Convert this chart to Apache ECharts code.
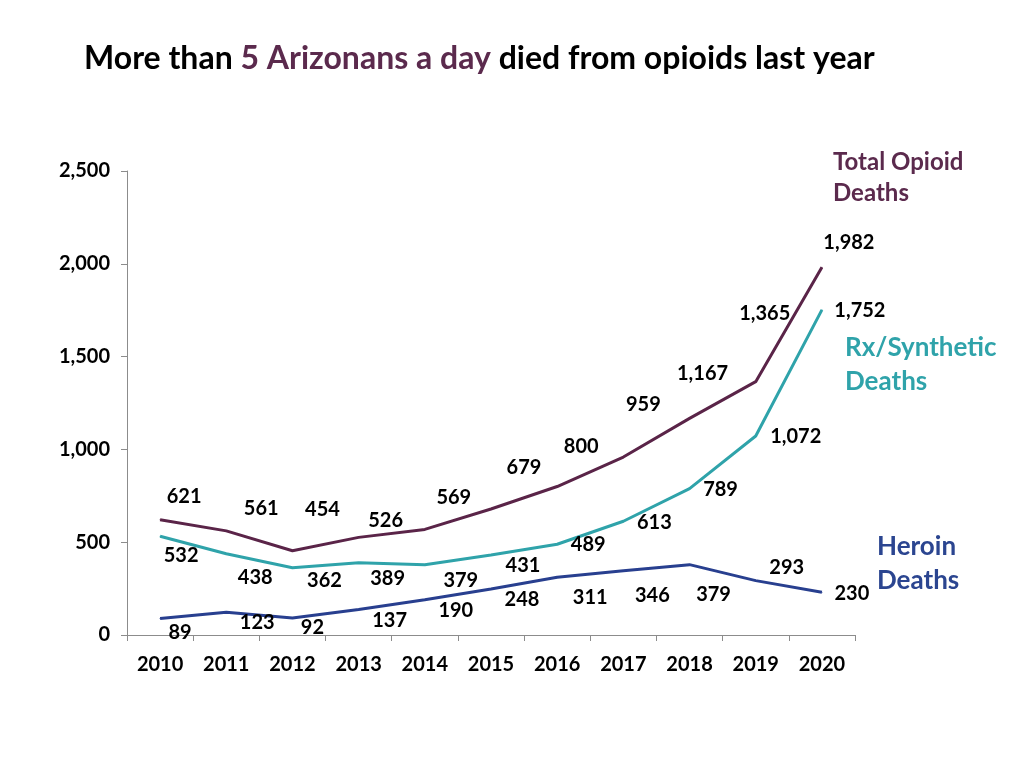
<!DOCTYPE html>
<html><head><meta charset="utf-8">
<script src="https://cdn.jsdelivr.net/npm/echarts@6/dist/echarts.min.js"></script>
<style>html,body{margin:0;padding:0;background:#fff}#c{width:1024px;height:768px}</style>
</head><body><div id="c"></div>
<script>
const years = ['2010','2011','2012','2013','2014','2015','2016','2017','2018','2019','2020'];
const totalDeaths = [621, 561, 454, 526, 569, 679, 800, 959, 1167, 1365, 1982];
const rxDeaths = [532, 438, 362, 389, 379, 431, 489, 613, 789, 1072, 1752];
const heroinDeaths = [89, 123, 92, 137, 190, 248, 311, 346, 379, 293, 230];
const yTicks = [0, 500, 1000, 1500, 2000, 2500];

// label placement offsets (layout only)
const totalOffsets = [[24,-23],[35,-22],[30,-41],[27,-17],[29,-32],[33,-41],[24,-40],[20,-52],[13,-45],[9,-68],[27,-25]];
const rxOffsets = [[21,19],[29,24],[32,13],[29,16],[36,16],[32,11],[31,0],[31,1],[31,1],[40,1],[38,1]];
const heroinOffsets = [[20,14],[31,10],[20,10],[31,11],[31,11],[31,11],[33,20],[29,25],[24,30],[31,-13],[30,1]];

const FONT = 'Lato';
const fmt = v => v.toLocaleString('en-US');

function mkSeries(name, vals, offs, color) {
  return {
    name, type: 'line', symbol: 'circle', symbolSize: 1, showSymbol: true,
    lineStyle: { color, width: 3 }, itemStyle: { color },
    z: name === 'Heroin' ? 3 : 2,
    data: vals.map((v, i) => ({
      value: v,
      label: { show: true, position: 'inside', offset: offs[i],
        formatter: p => fmt(p.value), color: '#000', fontFamily: FONT, fontWeight: 'bold', fontSize: 20 }
    }))
  };
}

const chart = echarts.init(document.getElementById('c'), null, { renderer: 'canvas' });
chart.setOption({
  animation: false,
  title: {
    left: 79, top: 38,
    text: '{a|More than }{b|5 Arizonans a day}{a| died from opioids last year}',
    textStyle: {
      rich: {
        a: { fontFamily: FONT, fontWeight: 'bold', fontSize: 32, color: '#000' },
        b: { fontFamily: FONT, fontWeight: 'bold', fontSize: 32, color: '#5b2a4d' }
      }
    }
  },
  grid: { left: 127, right: 169, top: 171, bottom: 133, containLabel: false },
  xAxis: {
    type: 'category', data: years, boundaryGap: true,
    axisLine: { lineStyle: { color: '#8c8c8c', width: 1 } },
    axisTick: { show: true, length: 6, lineStyle: { color: '#8c8c8c' } },
    axisLabel: { color: '#000', fontFamily: FONT, fontWeight: 'bold', fontSize: 20, margin: 20 }
  },
  yAxis: {
    type: 'value', min: yTicks[0], max: yTicks[yTicks.length - 1], interval: 500,
    axisLine: { show: true, lineStyle: { color: '#8c8c8c', width: 1 } },
    axisTick: { show: true, length: 6, lineStyle: { color: '#8c8c8c' } },
    splitLine: { show: false },
    axisLabel: { color: '#000', fontFamily: FONT, fontWeight: 'bold', fontSize: 20, margin: 17,
      formatter: v => fmt(v) }
  },
  series: [
    mkSeries('Total', totalDeaths, totalOffsets, '#5a2448'),
    mkSeries('Rx', rxDeaths, rxOffsets, '#2fa3aa'),
    mkSeries('Heroin', heroinDeaths, heroinOffsets, '#283f8f')
  ],
  graphic: [
    { type: 'text', left: 833, top: 147, style: { text: 'Total Opioid\nDeaths', fill: '#5b2a4d',
      font: 'bold 24px ' + FONT, lineHeight: 31 } },
    { type: 'text', left: 845, top: 331, style: { text: 'Rx/Synthetic\nDeaths', fill: '#2fa3aa',
      font: 'bold 26px ' + FONT, lineHeight: 34 } },
    { type: 'text', left: 877, top: 530, style: { text: 'Heroin\nDeaths', fill: '#2b4590',
      font: 'bold 26px ' + FONT, lineHeight: 34 } }
  ]
});
</script></body></html>
